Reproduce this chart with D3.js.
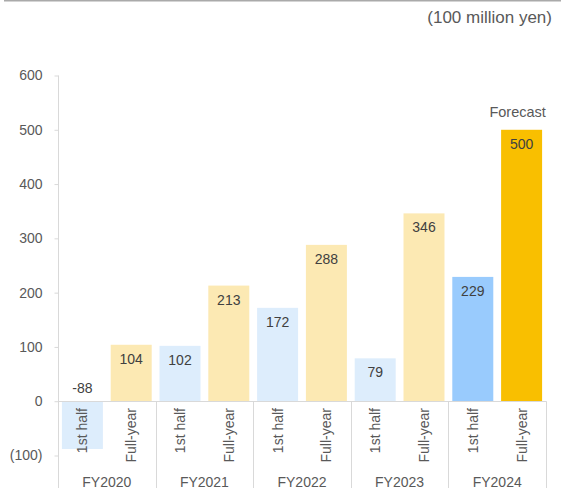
<!DOCTYPE html>
<html>
<head>
<meta charset="utf-8">
<script src="https://cdn.jsdelivr.net/npm/d3@7"></script>
<style>
  html, body { margin: 0; padding: 0; background: #fff; }
  svg { display: block; font-family: "Liberation Sans", Arial, sans-serif; }
</style>
</head>
<body>
<svg id="chart" width="561" height="491"></svg>
<script>
// Fiscal years and the two periods reported in each
const years = ["FY2020", "FY2021", "FY2022", "FY2023", "FY2024"];
const periods = ["1st half", "Full-year"];
// Values in 100 million yen
const firstHalf = [-88, 102, 172, 79, 229];
const fullYear = [104, 213, 288, 346, 500];
const yTicks = [-100, 0, 100, 200, 300, 400, 500, 600];
const unitLabel = "(100 million yen)";
const forecastLabel = "Forecast";

const svg = d3.select("#chart");
const W = 561, H = 491;
const left = 58, right = 546;
const axisColor = "#d9d9d9";
const textColor = "#595959";
const valueColor = "#404040";
const fontSize = "14px";

// Thin rule along the top edge
svg.append("line")
  .attr("x1", 4).attr("x2", W).attr("y1", 0.75).attr("y2", 0.75)
  .attr("stroke", "#aaaaaa").attr("stroke-width", 1.5);

const y = d3.scaleLinear().domain([-100, 600]).range([455.5, 75.5]);

const x0 = d3.scaleBand().domain(years).range([left, right]).paddingInner(0).paddingOuter(0);
const x1 = d3.scaleBand().domain(periods).range([0, x0.bandwidth()]).paddingInner(0.16).paddingOuter(0.08);

const rows = [];
years.forEach((yr, i) => {
  rows.push({ year: yr, period: periods[0], value: firstHalf[i], idx: i });
  rows.push({ year: yr, period: periods[1], value: fullYear[i], idx: i });
});

function fill(d) {
  const last = d.idx === years.length - 1;
  if (d.period === periods[0]) return last ? "#99cbfd" : "#ddedfc";
  return last ? "#f9bf00" : "#fce9b3";
}

// Bars
svg.append("g").selectAll("rect").data(rows).join("rect")
  .attr("x", d => x0(d.year) + x1(d.period))
  .attr("width", x1.bandwidth())
  .attr("y", d => y(Math.max(0, d.value)))
  .attr("height", d => Math.abs(y(d.value) - y(0)))
  .attr("fill", fill);

// Value axis
const yAxis = d3.axisLeft(y).tickValues(yTicks).tickSize(4).tickPadding(12)
  .tickFormat(v => v < 0 ? "(" + Math.abs(v) + ")" : String(v));
const gy = svg.append("g").attr("transform", `translate(${left + 0.5},0)`).call(yAxis);
gy.select(".domain").remove();
gy.selectAll(".tick line").attr("stroke", axisColor);
gy.selectAll(".tick text").attr("fill", textColor).style("font-size", fontSize)
  .style("font-family", "Liberation Sans, Arial, sans-serif");

// Vertical axis line running down through the category area
svg.append("line")
  .attr("x1", left + 0.5).attr("x2", left + 0.5)
  .attr("y1", y(600)).attr("y2", 488)
  .attr("stroke", axisColor);

// Zero baseline
svg.append("line")
  .attr("x1", left).attr("x2", right)
  .attr("y1", Math.round(y(0)) + 0.5).attr("y2", Math.round(y(0)) + 0.5)
  .attr("stroke", axisColor);

// Group separators
svg.append("g").selectAll("line").data(years.slice(1).concat(["end"])).join("line")
  .attr("x1", (d, i) => Math.round(x0(years[0]) + x0.bandwidth() * (i + 1)) + 0.5)
  .attr("x2", (d, i) => Math.round(x0(years[0]) + x0.bandwidth() * (i + 1)) + 0.5)
  .attr("y1", y(0)).attr("y2", 488)
  .attr("stroke", axisColor);

// Rotated period labels
svg.append("g").selectAll("text").data(rows).join("text")
  .attr("transform", d => `translate(${x0(d.year) + x1(d.period) + x1.bandwidth() / 2 + 5},408) rotate(-90)`)
  .attr("text-anchor", "end")
  .attr("fill", textColor)
  .style("font-size", fontSize)
  .text(d => d.period);

// Fiscal year labels
svg.append("g").selectAll("text").data(years).join("text")
  .attr("x", d => x0(d) + x0.bandwidth() / 2)
  .attr("y", 487)
  .attr("text-anchor", "middle")
  .attr("fill", textColor)
  .style("font-size", fontSize)
  .text(d => d);

// Value labels
svg.append("g").selectAll("text").data(rows).join("text")
  .attr("x", d => x0(d.year) + x1(d.period) + x1.bandwidth() / 2)
  .attr("y", d => d.value < 0 ? y(0) - 8 : y(d.value) + 19)
  .attr("text-anchor", "middle")
  .attr("fill", valueColor)
  .style("font-size", fontSize)
  .text(d => d.value);

// Forecast note above the final full-year bar
const last = rows[rows.length - 1];
svg.append("text")
  .attr("x", x0(last.year) + x1(last.period) + x1.bandwidth() / 2 - 4)
  .attr("y", y(last.value) - 13)
  .attr("text-anchor", "middle")
  .attr("fill", textColor)
  .style("font-size", "14.5px")
  .text(forecastLabel);

// Unit label
svg.append("text")
  .attr("x", 552).attr("y", 23)
  .attr("text-anchor", "end")
  .attr("fill", textColor)
  .style("font-size", "17px")
  .text(unitLabel);
</script>
</body>
</html>
